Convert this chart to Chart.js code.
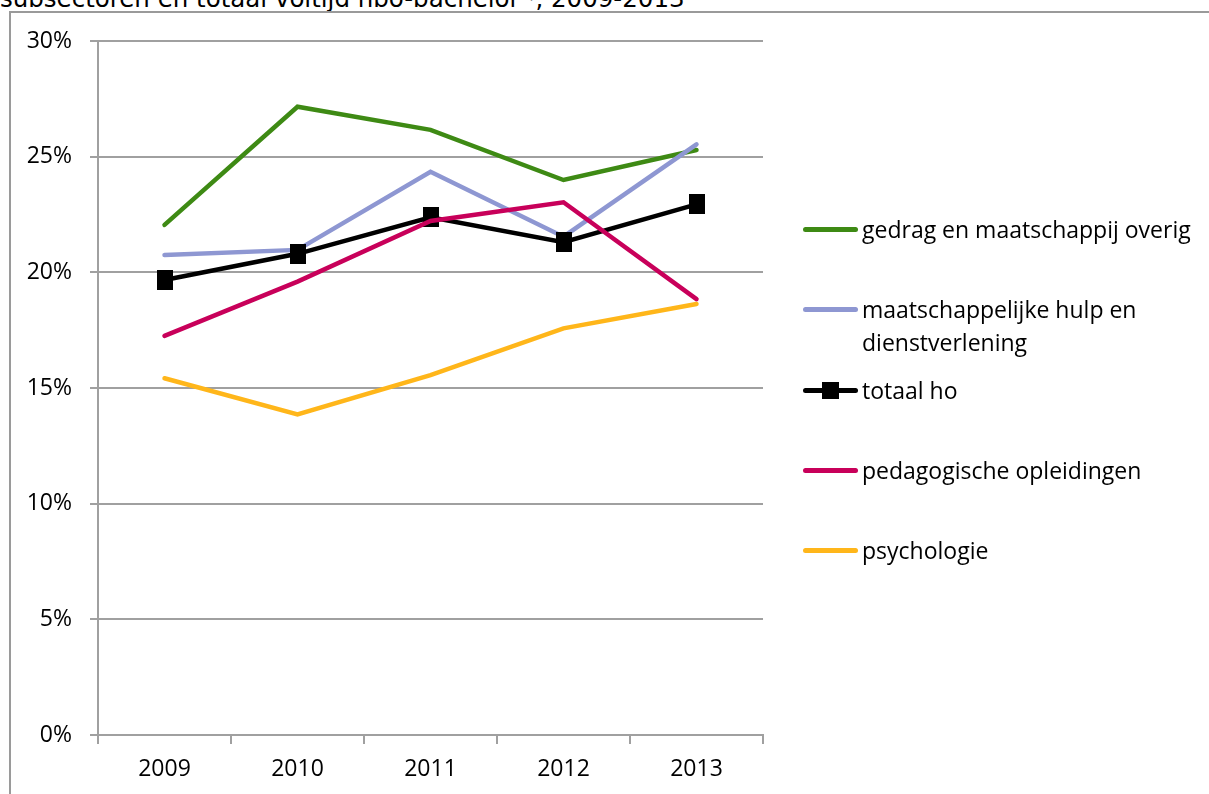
<!DOCTYPE html>
<html>
<head>
<meta charset="utf-8">
<script src="https://cdn.jsdelivr.net/npm/chart.js@4/dist/chart.umd.min.js"></script>
<style>
  html, body { margin:0; padding:0; background:#fff; }
  body { width:1209px; height:794px; position:relative; overflow:hidden; font-family:'Open Sans', sans-serif; }
  .title { position:absolute; left:0; top:-15px; font-family:'DejaVu Sans', sans-serif; font-size:24.5px; line-height:28px; color:#000; white-space:nowrap; }
  .frame { position:absolute; left:9px; top:11px; width:1300px; height:900px; border:2px solid #9a9a9a; box-sizing:border-box; background:transparent; }
  .chart-wrap { position:absolute; left:0; top:0; width:1209px; height:794px; }
  .legend { position:absolute; left:803px; top:0; }
  .leg-item { position:absolute; left:0; width:406px; display:flex; align-items:flex-start; font-size:23px; line-height:33px; color:#000; }
  .leg-swatch { width:55px; height:33px; position:relative; flex:none; }
  .leg-swatch .ln { position:absolute; left:0; right:0; top:14px; height:5px; border-radius:2.5px; }
  .leg-swatch .mk { position:absolute; left:19px; top:8px; width:17px; height:17px; background:#000; }
  .leg-text { padding-left:4px; width:340px; }
</style>
</head>
<body>
<div class="title">subsectoren en totaal voltijd hbo-bachelor¹⁾, 2009-2013</div>
<div class="frame"></div>
<div class="chart-wrap"><canvas id="chart" width="1209" height="794"></canvas></div>
<div class="legend" id="legend"></div>
<script>
// ---- Data ----
const years = ['2009', '2010', '2011', '2012', '2013'];
const gedragOverig   = [22.05, 27.16, 26.16, 23.99, 25.29];
const maatschHulp    = [20.75, 20.97, 24.35, 21.54, 25.53];
const totaalHo       = [19.67, 20.80, 22.38, 21.30, 22.94];
const pedagogisch    = [17.25, 19.60, 22.22, 23.03, 18.84];
const psychologie    = [15.42, 13.86, 15.56, 17.58, 18.63];
const yTicks = [0, 5, 10, 15, 20, 25, 30];

const series = [
  { label:'gedrag en maatschappij overig', data:gedragOverig, color:'#3E8A14', order:5, top:213 },
  { label:'maatschappelijke hulp en dienstverlening', data:maatschHulp, color:'#8E97D2', order:4, top:293 },
  { label:'totaal ho', data:totaalHo, color:'#000000', order:3, top:374, marker:true },
  { label:'pedagogische opleidingen', data:pedagogisch, color:'#C8005A', order:2, top:454 },
  { label:'psychologie', data:psychologie, color:'#FFB61A', order:1, top:534 },
];

// square marker, a bit taller than wide like the reference
const markerImg = document.createElement('canvas');
markerImg.width = 16; markerImg.height = 20;
markerImg.getContext('2d').fillRect(0, 0, 16, 20);

Chart.defaults.font.family = "'Open Sans', sans-serif";
Chart.defaults.color = '#000';

new Chart(document.getElementById('chart'), {
  type: 'line',
  data: {
    labels: years,
    datasets: series.map(s => ({
      label: s.label,
      data: s.data,
      borderColor: s.color,
      backgroundColor: s.color,
      borderWidth: 4.5,
      borderCapStyle: 'round',
      borderJoinStyle: 'miter',
      tension: 0,
      order: s.order,
      pointStyle: s.marker ? markerImg : 'circle',
      pointRadius: s.marker ? 10 : 0,
      pointHoverRadius: s.marker ? 10 : 0,
      pointBorderWidth: 0,
    }))
  },
  options: {
    responsive: false,
    animation: false,
    events: [],
    layout: { padding: { top: 41, right: 446, left: 0, bottom: 0 } },
    plugins: { legend: { display: false }, tooltip: { enabled: false } },
    scales: {
      x: {
        offset: true,
        grid: { display: true, drawOnChartArea: false, drawTicks: true, tickLength: 9, color: '#a0a0a0', lineWidth: 2, offset: true },
        border: { color: '#a0a0a0', width: 2 },
        ticks: { font: { size: 23 }, padding: 12, color: '#000' },
        afterFit: s => { s.height = 59; }
      },
      y: {
        min: 0, max: 30,
        afterBuildTicks: s => { s.ticks = yTicks.map(v => ({ value: v })); },
        grid: { color: '#a0a0a0', lineWidth: 2, tickLength: 8 },
        border: { color: '#a0a0a0', width: 2 },
        ticks: { font: { size: 23 }, padding: 18, color: '#000', callback: v => v + '%' },
        afterFit: s => { s.width = 98; }
      }
    }
  }
});

// ---- Legend ----
const legendEl = document.getElementById('legend');
series.forEach(s => {
  legendEl.insertAdjacentHTML('beforeend',
    `<div class="leg-item" style="top:${s.top}px"><div class="leg-swatch"><div class="ln" style="background:${s.color}"></div>${s.marker ? '<div class="mk"></div>' : ''}</div><div class="leg-text">${s.label}</div></div>`);
});
</script>
</body>
</html>
